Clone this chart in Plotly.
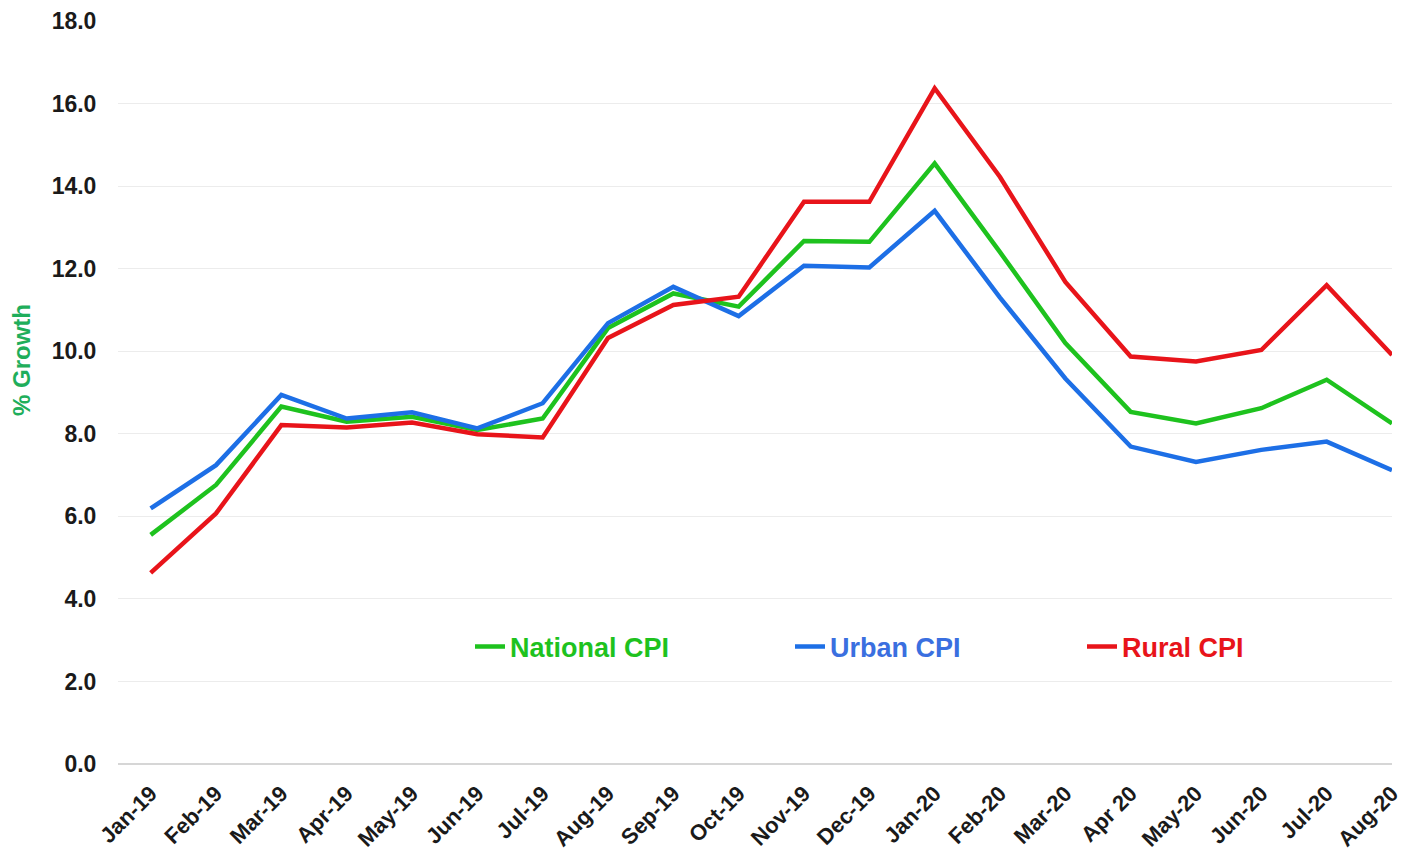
import plotly.graph_objects as go

months = ["Jan-19", "Feb-19", "Mar-19", "Apr-19", "May-19", "Jun-19", "Jul-19",
          "Aug-19", "Sep-19", "Oct-19", "Nov-19", "Dec-19", "Jan-20", "Feb-20",
          "Mar-20", "Apr 20", "May-20", "Jun-20", "Jul-20", "Aug-20"]

national_cpi = [5.55, 6.76, 8.66, 8.29, 8.41, 8.09, 8.37, 10.56, 11.40, 11.08,
                12.67, 12.65, 14.55, 12.40, 10.20, 8.53, 8.25, 8.62, 9.31, 8.25]
urban_cpi = [6.19, 7.24, 8.94, 8.37, 8.52, 8.13, 8.74, 10.68, 11.56, 10.85,
             12.07, 12.03, 13.40, 11.30, 9.34, 7.69, 7.32, 7.61, 7.81, 7.12]
rural_cpi = [4.63, 6.07, 8.21, 8.15, 8.27, 7.99, 7.91, 10.32, 11.12, 11.32,
             13.62, 13.62, 16.37, 14.22, 11.68, 9.87, 9.75, 10.03, 11.60, 9.91]

y_ticks = [0, 2, 4, 6, 8, 10, 12, 14, 16, 18]

GREEN = "#1ec21e"
BLUE = "#1d6fe6"
RED = "#e8141a"
LEG_BLUE = "#3a6fe0"

FONT = "Liberation Sans, Arial, sans-serif"

fig = go.Figure()
series = [
    ("National CPI", national_cpi, GREEN, "legend"),
    ("Urban CPI", urban_cpi, BLUE, "legend2"),
    ("Rural CPI", rural_cpi, RED, "legend3"),
]
for name, vals, col, leg in series:
    fig.add_trace(go.Scatter(
        x=months, y=vals, mode="lines", name=name,
        line=dict(color=col, width=4.5),
        legend=leg, showlegend=True,
    ))

# page offset of 8px (default body margin) compensated
OFF = 8
W, H = 1409 - OFF, 854 - OFF
L, R, T, B = 118 - OFF, 17, 21 - OFF, 90
pw = W - L - R
ph = H - T - B

def px_x(x):
    return (x - OFF - L) / pw

def px_y(y):
    return (H - B - (y - OFF)) / ph

leg_common = dict(
    orientation="h", yanchor="middle", xanchor="left",
    bgcolor="rgba(0,0,0,0)", borderwidth=0,
    y=px_y(647),
)

fig.update_layout(
    width=W, height=H,
    showlegend=True,
    margin=dict(l=L, r=R, t=T, b=B, pad=0, autoexpand=False),
    paper_bgcolor="white", plot_bgcolor="white",
    font=dict(family=FONT, color="#1a1a1a"),
    legend=dict(**leg_common, x=px_x(470),
                font=dict(family=FONT, size=27, color=GREEN, weight="bold")),
    legend2=dict(**leg_common, x=px_x(790),
                 font=dict(family=FONT, size=27, color=LEG_BLUE, weight="bold")),
    legend3=dict(**leg_common, x=px_x(1082),
                 font=dict(family=FONT, size=27, color=RED, weight="bold")),
    xaxis=dict(
        type="category", categoryorder="array", categoryarray=months,
        range=[-0.5, 19.0],
        tickangle=-45,
        tickfont=dict(family=FONT, size=22, color="#1a1a1a", weight="bold"),
        showgrid=False, zeroline=False, showline=False,
        ticks="outside", ticklen=7, tickcolor="rgba(0,0,0,0)",
        automargin=False,
    ),
    yaxis=dict(
        range=[0, 18], tickvals=y_ticks, tickformat=".1f",
        tickfont=dict(family=FONT, size=23, color="#1a1a1a", weight="bold"),
        showgrid=True, gridcolor="#ececec", gridwidth=1,
        zeroline=True, zerolinecolor="#d6d6d6", zerolinewidth=1.5,
        showline=False,
        ticks="outside", ticklen=16, tickcolor="rgba(0,0,0,0)",
        automargin=False,
    ),
    annotations=[dict(
        text="<b>% Growth</b>", textangle=-90,
        xref="paper", yref="paper", x=px_x(21), y=px_y(360),
        xanchor="center", yanchor="middle", showarrow=False,
        font=dict(family=FONT, size=24, color="#1fae5b"),
    )],
)

fig.write_html("out.html")
